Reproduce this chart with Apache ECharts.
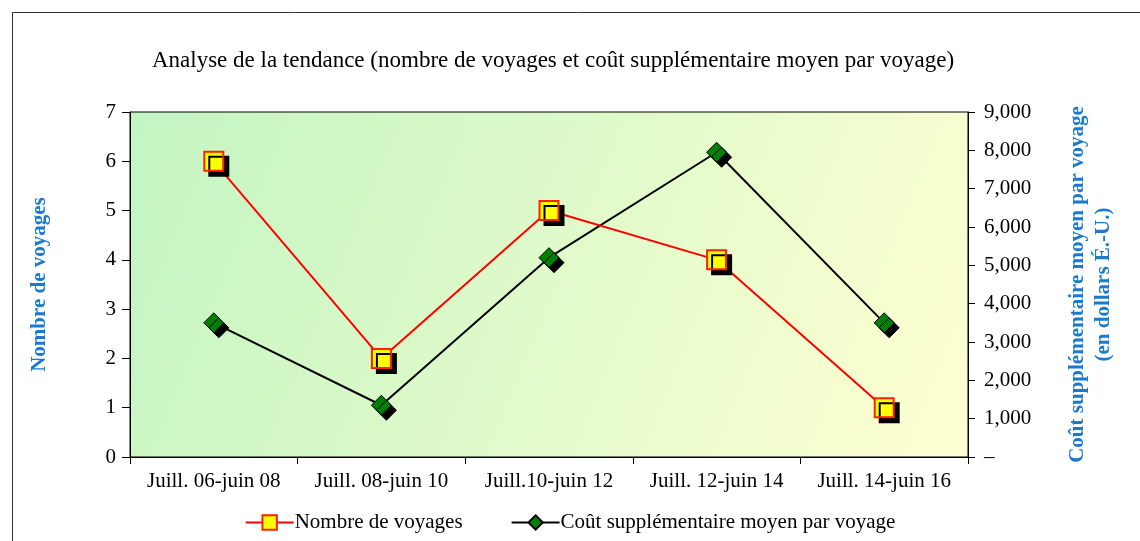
<!DOCTYPE html>
<html>
<head>
<meta charset="utf-8">
<script src="https://cdn.jsdelivr.net/npm/echarts@6/dist/echarts.min.js"></script>
<style>
  html, body { margin: 0; padding: 0; background: #fff; }
  #chart { width: 1140px; height: 541px; }
</style>
</head>
<body>
<div id="chart"></div>
<script>
const categories = ['Juill. 06-juin 08', 'Juill. 08-juin 10', 'Juill.10-juin 12', 'Juill. 12-juin 14', 'Juill. 14-juin 16'];
const voyages = [6, 2, 5, 4, 1];
const coutMoyen = [3500, 1350, 5200, 7950, 3500];

const SERIF = '"Liberation Serif", "DejaVu Serif", serif';
const BLUE = '#1a7ad0';

const chart = echarts.init(document.getElementById('chart'));

const option = {
  animation: false,
  textStyle: { fontFamily: SERIF },
  title: {
    text: 'Analyse de la tendance (nombre de voyages et coût supplémentaire moyen par voyage)',
    left: 548, textAlign: 'center', top: 44,
    textStyle: { fontFamily: SERIF, fontSize: 23, fontWeight: 'normal', color: '#000' }
  },
  graphic: [{
    type: 'rect', silent: true,
    shape: { x: 12.5, y: 12.5, width: 1160, height: 600 },
    style: { fill: 'none', stroke: '#333', lineWidth: 1 }
  }],
  grid: {
    left: 130, right: 172, top: 112, bottom: 84,
    show: true, borderColor: '#000', borderWidth: 1,
    backgroundColor: new echarts.graphic.LinearGradient(0, 0, 1, 1, [
      { offset: 0, color: '#c2f5c2' },
      { offset: 1, color: '#ffffd2' }
    ])
  },
  legend: {
    bottom: 3, left: 'center', itemGap: 48,
    itemWidth: 48, itemHeight: 18,
    textStyle: { fontFamily: SERIF, fontSize: 21, color: '#000', padding: [0, 0, 0, -4] },
    data: ['Nombre de voyages', 'Coût supplémentaire moyen par voyage']
  },
  xAxis: {
    type: 'category', data: categories, boundaryGap: true,
    axisLine: { lineStyle: { color: '#000', width: 1 } },
    axisTick: { show: true, interval: 0, alignWithLabel: false, length: 7, lineStyle: { color: '#000' } },
    axisLabel: { fontFamily: SERIF, fontSize: 21, color: '#000', margin: 14, interval: 0, hideOverlap: false }
  },
  yAxis: [{
    type: 'value', min: 0, max: 7, interval: 1, position: 'left',
    name: 'Nombre de voyages', nameLocation: 'middle', nameGap: 80, nameRotate: 90,
    nameTextStyle: { fontFamily: SERIF, fontSize: 21, fontWeight: 'bold', color: BLUE },
    axisLine: { show: true, lineStyle: { color: '#000' } },
    axisTick: { show: true, length: 8, lineStyle: { color: '#000' } },
    axisLabel: { fontFamily: SERIF, fontSize: 21, color: '#000', margin: 14 },
    splitLine: { show: false }
  }, {
    type: 'value', min: 0, max: 9000, interval: 1000, position: 'right',
    name: 'Coût supplémentaire moyen par voyage\n(en dollars É.-U.)',
    nameLocation: 'middle', nameGap: 97, nameRotate: 90,
    nameTextStyle: { fontFamily: SERIF, fontSize: 21, fontWeight: 'bold', color: BLUE, lineHeight: 26 },
    axisLine: { show: true, lineStyle: { color: '#000' } },
    axisTick: { show: true, length: 7, lineStyle: { color: '#000' } },
    axisLabel: {
      fontFamily: SERIF, fontSize: 21, color: '#000', margin: 16,
      formatter: v => v === 0 ? '–' : v.toLocaleString('en-US')
    },
    splitLine: { show: false }
  }],
  series: [{
    name: 'Nombre de voyages', type: 'line', yAxisIndex: 0, data: voyages,
    symbol: 'rect', symbolSize: 19,
    lineStyle: { color: '#ff0000', width: 2 },
    itemStyle: {
      color: '#ffff00', borderColor: '#ff2000', borderWidth: 2,
      shadowColor: '#000', shadowOffsetX: 5, shadowOffsetY: 5, shadowBlur: 0
    },
    z: 3
  }, {
    name: 'Coût supplémentaire moyen par voyage', type: 'line', yAxisIndex: 1, data: coutMoyen,
    symbol: 'diamond', symbolSize: 20,
    lineStyle: { color: '#000', width: 2 },
    itemStyle: {
      color: '#008000', borderColor: '#000', borderWidth: 1,
      shadowColor: '#000', shadowOffsetX: 5, shadowOffsetY: 5, shadowBlur: 0
    },
    z: 2
  }]
};

chart.setOption(option);
</script>
</body>
</html>
